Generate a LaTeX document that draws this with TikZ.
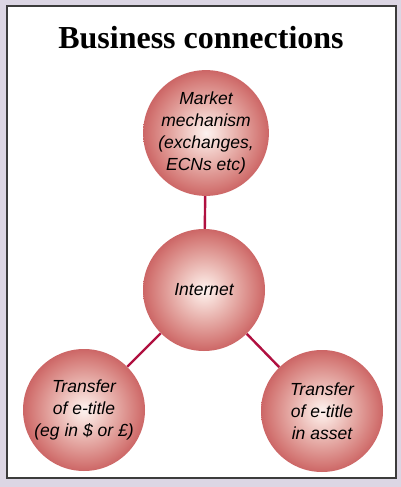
\documentclass[tikz,border=0pt]{standalone}
\usepackage{fontspec}
\setmainfont{Liberation Serif}
\setsansfont{Liberation Sans}
\definecolor{bgl}{RGB}{220,214,228}
\definecolor{frame}{RGB}{60,60,60}
\definecolor{link}{RGB}{176,16,64}
\pgfdeclareradialshading{ballshade}{\pgfpoint{0bp}{0bp}}{%
  rgb(0bp)=(0.99,0.95,0.94);
  rgb(4bp)=(0.97,0.87,0.85);
  rgb(13bp)=(0.90,0.67,0.65);
  rgb(22bp)=(0.83,0.47,0.46);
  rgb(25bp)=(0.80,0.40,0.40);
  rgb(50bp)=(0.80,0.40,0.40)}
\tikzset{
  ball/.style={circle, minimum size=122pt, inner sep=0pt, shading=ballshade,
    align=center, font=\sffamily\itshape\fontsize{17.5}{22}\selectfont},
  linkline/.style={draw=link, line width=2.4pt}
}
\begin{document}
\begin{tikzpicture}[x=1pt,y=-1pt]
\fill[bgl] (0,0) rectangle (401,487);
\fill[white, draw=frame, line width=1.5pt] (7,6) rectangle (396,478);
\useasboundingbox (0,0) rectangle (401,487);
\node[font=\bfseries\fontsize{32}{36}\selectfont] (title) at (201,38) {Business connections};
\node[ball] (market) at (206,133) {Market\\mechanism\\(exchanges,\\ECNs etc)};
\node[ball] (internet) at (204,290) {Internet};
\node[ball] (money) at (84,410) {Transfer\\of e-title\\(eg in \$ or £)};
\node[ball] (asset) at (322,411) {Transfer\\of e-title\\in asset};
\draw[linkline] (market) -- (internet);
\draw[linkline] (internet) -- (money);
\draw[linkline] (internet) -- (asset);
\end{tikzpicture}
\end{document}
